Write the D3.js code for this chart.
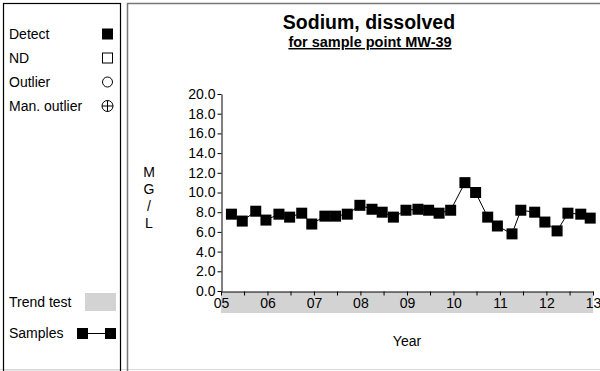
<!DOCTYPE html>
<html>
<head>
<meta charset="utf-8">
<script src="https://cdn.jsdelivr.net/npm/d3@7"></script>
<style>
  html, body { margin: 0; padding: 0; background: #fff; }
  svg { display: block; font-family: "Liberation Sans", Arial, sans-serif; }
</style>
</head>
<body>
<svg id="chart" width="600" height="371"></svg>
<script>
// Sample dates and dissolved sodium results (mg/L) for MW-39
const sampleDates = [
  "2005-03-24", "2005-06-17", "2005-10-01", "2005-12-20",
  "2006-04-01", "2006-06-24", "2006-09-27", "2006-12-15",
  "2007-03-28", "2007-06-20", "2007-09-20", "2007-12-28",
  "2008-04-01", "2008-06-20", "2008-09-16", "2008-12-24",
  "2009-03-28", "2009-06-20", "2009-09-10", "2009-12-10",
  "2010-04-01", "2010-06-24", "2010-09-27", "2010-12-12",
  "2011-04-06", "2011-06-14", "2011-10-01", "2011-12-20",
  "2012-03-25", "2012-06-18", "2012-09-27", "2012-12-10"
];
const sodiumValues = [
  7.8, 7.1, 8.1, 7.2,
  7.8, 7.5, 7.9, 6.8,
  7.6, 7.6, 7.8, 8.7,
  8.3, 8.0, 7.5, 8.2,
  8.3, 8.2, 7.9, 8.2,
  11.0, 10.0, 7.5, 6.6,
  5.8, 8.2, 8.0, 7.0,
  6.1, 7.9, 7.8, 7.4
];
const yTickValues = [0, 2, 4, 6, 8, 10, 12, 14, 16, 18, 20];
const trendPeriod = ["2005-01-01", "2013-01-01"];
const legendLabels = ["Detect", "ND", "Outlier", "Man. outlier"];
const yLabelLetters = ["M", "G", "/", "L"];

const FONT = "Liberation Sans, Arial, sans-serif";
const parse = d3.utcParse("%Y-%m-%d");
const samples = sampleDates.map((d, i) => ({ date: parse(d), value: sodiumValues[i] }));

const svg = d3.select("#chart");

// Panel frames
svg.append("line").attr("x1", 0).attr("x2", 600).attr("y1", 369.5).attr("y2", 369.5)
  .attr("stroke", "#d8d8d8").attr("stroke-width", 1);
svg.append("rect").attr("x", 3.5).attr("y", 3.5).attr("width", 117).attr("height", 368)
  .attr("fill", "none").attr("stroke", "#000").attr("stroke-width", 1.2);
svg.append("line").attr("x1", 127.5).attr("x2", 127.5).attr("y1", 3).attr("y2", 371)
  .attr("stroke", "#777").attr("stroke-width", 1.5);
svg.append("line").attr("x1", 127).attr("x2", 600).attr("y1", 3.5).attr("y2", 3.5)
  .attr("stroke", "#777").attr("stroke-width", 1.5);

// Legend
const legend = svg.append("g");
const lgX = 9, symX = 107.5, lgFont = 14;
legendLabels.forEach((label, i) => {
  const y = 34 + i * 24;
  legend.append("text").attr("x", lgX).attr("y", y + 5)
    .attr("font-size", lgFont).text(label);
  if (i === 0) {
    legend.append("rect").attr("x", symX - 5.5).attr("y", y - 5.5)
      .attr("width", 11).attr("height", 11).attr("fill", "#000");
  } else if (i === 1) {
    legend.append("rect").attr("x", symX - 5).attr("y", y - 5)
      .attr("width", 10).attr("height", 10).attr("fill", "none").attr("stroke", "#000");
  } else if (i === 2) {
    legend.append("circle").attr("cx", symX).attr("cy", y).attr("r", 5)
      .attr("fill", "none").attr("stroke", "#000");
  } else {
    legend.append("circle").attr("cx", symX).attr("cy", y).attr("r", 5.5)
      .attr("fill", "none").attr("stroke", "#000");
    legend.append("path")
      .attr("d", `M${symX - 5.5},${y}H${symX + 5.5}M${symX},${y - 5.5}V${y + 5.5}`)
      .attr("stroke", "#000");
  }
});
legend.append("text").attr("x", lgX).attr("y", 307).attr("font-size", lgFont).text("Trend test");
legend.append("rect").attr("x", 85).attr("y", 293).attr("width", 31).attr("height", 18)
  .attr("fill", "#d3d3d3");
legend.append("text").attr("x", lgX).attr("y", 338).attr("font-size", lgFont).text("Samples");
legend.append("line").attr("x1", 82).attr("x2", 110).attr("y1", 333.5).attr("y2", 333.5)
  .attr("stroke", "#000");
legend.append("rect").attr("x", 77).attr("y", 328).attr("width", 11).attr("height", 11).attr("fill", "#000");
legend.append("rect").attr("x", 105).attr("y", 328).attr("width", 11).attr("height", 11).attr("fill", "#000");

// Titles
svg.append("text").attr("x", 369).attr("y", 29).attr("text-anchor", "middle")
  .attr("font-size", 19.5).attr("font-weight", "bold").text("Sodium, dissolved");
svg.append("text").attr("x", 370).attr("y", 47).attr("text-anchor", "middle")
  .attr("font-size", 14.5).attr("font-weight", "bold")
  .attr("text-decoration", "underline").text("for sample point MW-39");

// Scales
const x = d3.scaleUtc()
  .domain([new Date(Date.UTC(2005, 0, 1)), new Date(Date.UTC(2013, 0, 1))])
  .range([221, 593]);
const y = d3.scaleLinear().domain([0, 20]).range([291, 94]);

// Trend test period band under the x axis
svg.append("rect")
  .attr("x", x(parse(trendPeriod[0]))).attr("y", 292)
  .attr("width", x(parse(trendPeriod[1])) - x(parse(trendPeriod[0])))
  .attr("height", 21).attr("fill", "#d3d3d3");

// Y axis
const yAxis = svg.append("g").attr("transform", "translate(221.5,0)")
  .call(d3.axisLeft(y).tickValues(yTickValues).tickSize(4).tickPadding(2)
    .tickFormat(d3.format(".1f")).tickSizeOuter(0));
yAxis.selectAll("text").attr("font-size", 14).attr("font-family", FONT).attr("fill", "#000");
yAxis.selectAll("line, path").attr("stroke", "#000");

// X axis: half-year ticks, labels on whole years
const halfYears = d3.utcMonth.every(6).range(x.domain()[0], new Date(Date.UTC(2013, 0, 2)));
const xAxis = svg.append("g").attr("transform", "translate(0,291.5)")
  .call(d3.axisBottom(x).tickValues(halfYears).tickSize(4).tickSizeOuter(0)
    .tickFormat(d => d.getUTCMonth() === 0 ? d3.utcFormat("%y")(d) : ""));
xAxis.selectAll("text").attr("font-size", 14).attr("font-family", FONT)
  .attr("fill", "#000").attr("dy", "0.71em").attr("y", 7);
xAxis.selectAll("line, path").attr("stroke", "#000");

// Axis titles
svg.append("text").attr("x", 407).attr("y", 346).attr("text-anchor", "middle")
  .attr("font-size", 14).text("Year");
yLabelLetters.forEach((ch, i) => {
  svg.append("text").attr("x", 149).attr("y", 177 + i * 17)
    .attr("text-anchor", "middle").attr("font-size", 14).text(ch);
});

// Sample series
const line = d3.line().x(d => x(d.date)).y(d => y(d.value));
svg.append("path").datum(samples).attr("d", line)
  .attr("fill", "none").attr("stroke", "#000").attr("stroke-width", 1);
svg.append("g").selectAll("rect").data(samples).join("rect")
  .attr("x", d => x(d.date) - 5.5).attr("y", d => y(d.value) - 5.5)
  .attr("width", 11).attr("height", 11).attr("fill", "#000");
</script>
</body>
</html>
